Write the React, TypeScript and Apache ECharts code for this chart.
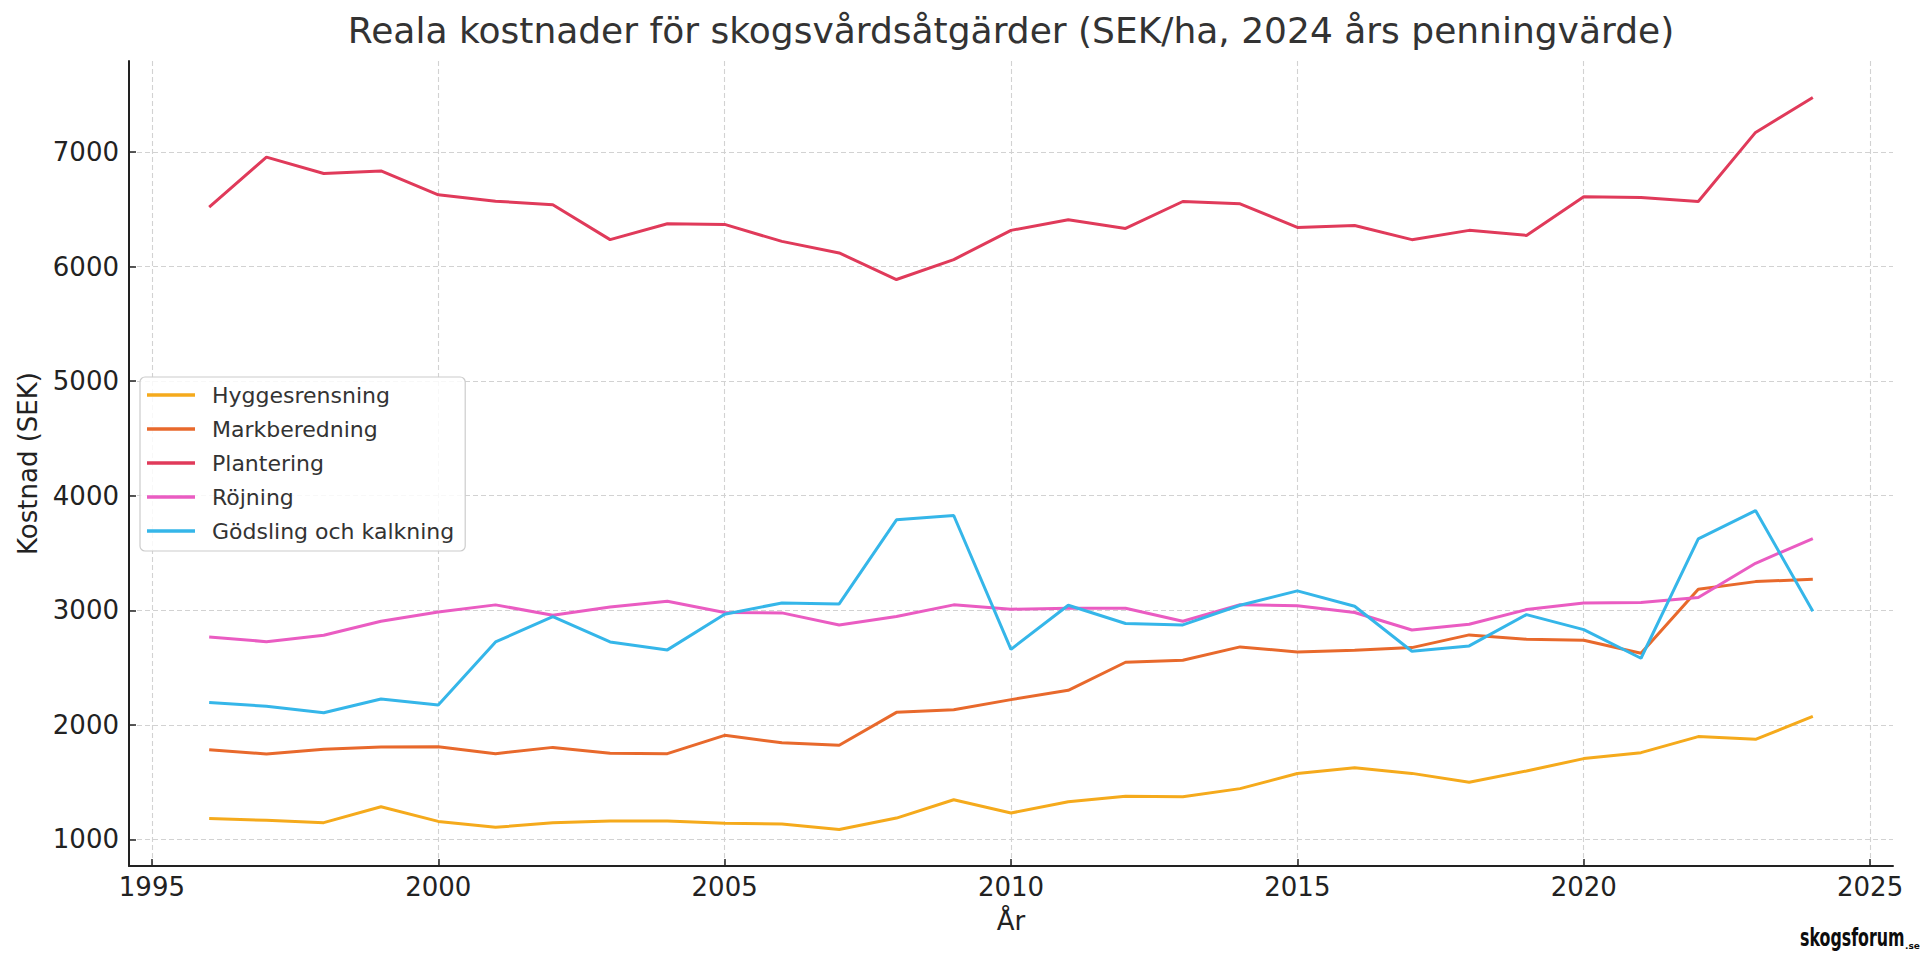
import React, { useEffect, useRef } from "react";
import * as echarts from "echarts";

const years = [
  1996, 1997, 1998, 1999, 2000, 2001, 2002, 2003, 2004, 2005, 2006, 2007, 2008, 2009, 2010,
  2011, 2012, 2013, 2014, 2015, 2016, 2017, 2018, 2019, 2020, 2021, 2022, 2023, 2024,
];

const seriesNames = ["Hyggesrensning", "Markberedning", "Plantering", "Röjning", "Gödsling och kalkning"];

const hyggesrensning = [
  1183, 1166, 1146, 1285, 1157, 1105, 1146, 1160, 1160, 1140, 1134, 1087, 1186, 1346, 1230,
  1329, 1376, 1373, 1443, 1575, 1626, 1576, 1498, 1597, 1705, 1757, 1897, 1873, 2074,
];
const markberedning = [
  1783, 1745, 1786, 1806, 1809, 1748, 1803, 1751, 1748, 1908, 1844, 1821, 2109, 2132, 2220,
  2301, 2546, 2563, 2680, 2636, 2651, 2674, 2785, 2747, 2738, 2624, 3183, 3250, 3271,
];
const plantering = [
  6519, 6955, 6812, 6835, 6626, 6571, 6539, 6235, 6374, 6368, 6220, 6119, 5887, 6061, 6316,
  6409, 6333, 6568, 6548, 6342, 6359, 6235, 6316, 6272, 6609, 6603, 6568, 7171, 7475,
];
const rojning = [
  2767, 2726, 2782, 2904, 2985, 3047, 2956, 3029, 3079, 2980, 2977, 2872, 2945, 3047, 3009,
  3017, 3017, 2904, 3049, 3040, 2980, 2828, 2878, 3006, 3064, 3067, 3111, 3410, 3626,
];
const godsling = [
  2194, 2162, 2106, 2226, 2173, 2723, 2945, 2723, 2654, 2965, 3064, 3055, 3789, 3827, 2659,
  3044, 2884, 2872, 3044, 3169, 3035, 2642, 2689, 2962, 2831, 2581, 3623, 3870, 2991,
];

const xTicks = [1995, 2000, 2005, 2010, 2015, 2020, 2025];
const yTicks = [1000, 2000, 3000, 4000, 5000, 6000, 7000];

const seriesColors = ["#F5AA1C", "#E8692C", "#E03A5A", "#EA5CC2", "#35B6E9"];

const FONT = "DejaVu Sans";

export default function App() {
  const ref = useRef<HTMLDivElement>(null);

  useEffect(() => {
    if (!ref.current) return;
    const chart = echarts.init(ref.current, null, { renderer: "svg" });
    const values = [hyggesrensning, markberedning, plantering, rojning, godsling];
    const flat = values.flat();
    const yLo = Math.min(...flat);
    const yHi = Math.max(...flat);
    const yPad = (yHi - yLo) * 0.05;
    const xLo = years[0];
    const xHi = years[years.length - 1];
    const xPad = (xHi - xLo) * 0.05;

    const axisColor = "#222";
    const gridLine = { show: true, lineStyle: { color: "#d2d2d2", type: [5, 3] as any, width: 1.1 } };

    chart.setOption({
      animation: false,
      backgroundColor: "#ffffff",
      textStyle: { fontFamily: FONT },
      title: {
        text: "Reala kostnader för skogsvårdsåtgärder (SEK/ha, 2024 års penningvärde)",
        left: 1011,
        top: 12,
        padding: 0,
        textAlign: "center",
        textStyle: { fontSize: 36, fontWeight: "normal", color: "#333", fontFamily: FONT },
      },
      grid: { left: 129, top: 61, right: 27, bottom: 87, containLabel: false, outerBoundsMode: "none" },
      legend: {
        orient: "vertical",
        left: 140,
        top: 377,
        padding: [7, 11, 9, 7],
        itemGap: 12,
        itemWidth: 48,
        itemHeight: 3.5,
        icon: "rect",
        backgroundColor: "rgba(255,255,255,0.85)",
        borderColor: "#cccccc",
        borderWidth: 1.2,
        borderRadius: 5,
        data: seriesNames,
        textStyle: { fontSize: 22, color: "#333", fontFamily: FONT, padding: [0, 0, 0, 12] },
      },
      xAxis: {
        type: "value",
        min: xLo - xPad,
        max: xHi + xPad,
        name: "År",
        nameLocation: "middle",
        nameGap: 42,
        nameTextStyle: { fontSize: 26, color: axisColor, fontFamily: FONT },
        axisLine: { show: true, onZero: false, lineStyle: { color: axisColor, width: 2 } },
        axisTick: { show: true, inside: true, length: 7, customValues: xTicks, lineStyle: { color: axisColor, width: 1.5 } },
        axisLabel: {
          customValues: xTicks,
          fontSize: 26,
          color: axisColor,
          margin: 8,
          fontFamily: FONT,
          formatter: (v: number) => String(v),
        },
        splitLine: gridLine,
      },
      yAxis: {
        type: "value",
        min: yLo - yPad,
        max: yHi + yPad,
        name: "Kostnad (SEK)",
        nameLocation: "middle",
        nameGap: 88,
        nameTextStyle: { fontSize: 26, color: axisColor, fontFamily: FONT },
        axisLine: { show: true, onZero: false, lineStyle: { color: axisColor, width: 2 } },
        axisTick: { show: true, inside: true, length: 7, customValues: yTicks, lineStyle: { color: axisColor, width: 1.5 } },
        axisLabel: {
          customValues: yTicks,
          fontSize: 26,
          color: axisColor,
          margin: 10,
          fontFamily: FONT,
          formatter: (v: number) => String(v),
        },
        splitLine: gridLine,
      },
      series: seriesNames.map((name, i) => ({
        name,
        type: "line",
        data: years.map((y, j) => [y, values[i][j]]),
        showSymbol: false,
        symbol: "none",
        color: seriesColors[i],
        lineStyle: { color: seriesColors[i], width: 3 },
        z: 2 + i,
      })),
      graphic: [
        {
          type: "text",
          x: 1800,
          y: 926,
          scaleX: 0.66,
          style: {
            text: "skogsforum",
            font: "bold 24px 'DejaVu Sans', sans-serif",
            fill: "#0d0d0d",
            textVerticalAlign: "top",
          },
        },
        {
          type: "text",
          x: 1905,
          y: 941,
          style: {
            text: ".se",
            font: "bold 9px 'DejaVu Sans', sans-serif",
            fill: "#0d0d0d",
            textVerticalAlign: "top",
          },
        },
      ],
    });

    return () => chart.dispose();
  }, []);

  return (
    <div
      ref={ref}
      style={{ position: "fixed", left: 0, top: 0, width: 1920, height: 953, background: "#fff" }}
    />
  );
}
